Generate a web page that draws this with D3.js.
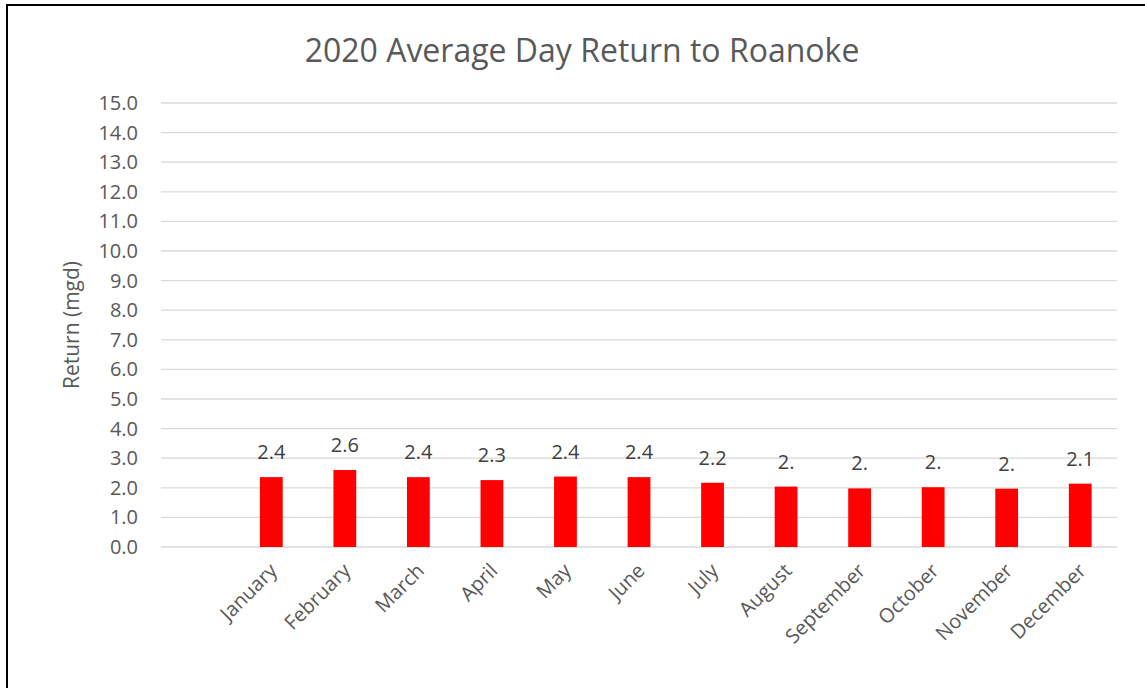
<!DOCTYPE html>
<html>
<head>
<meta charset="utf-8">
<script src="https://cdn.jsdelivr.net/npm/d3@7"></script>
<style>
  body { margin: 0; background: #fff; }
  svg { display: block; font-family: "Open Sans", "Noto Sans", sans-serif; }
</style>
</head>
<body>
<svg class="chart__svg" width="1145" height="688"></svg>
<script>
// chart data
// the first category is empty in the original workbook
const months = ['', 'January', 'February', 'March', 'April', 'May', 'June',
    'July', 'August', 'September', 'October', 'November', 'December'];
const returns = [null, 2.36, 2.60, 2.36, 2.26, 2.38, 2.36, 2.17, 2.04, 1.98, 2.02, 1.97, 2.14];
// labels as Excel shows them (some are cut off)
const valueLabels = ['', '2.4', '2.6', '2.4', '2.3', '2.4', '2.4', '2.2', '2.', '2.', '2.', '2.', '2.1'];
const yTicks = d3.range(0, 15.1, 1);

const svg = d3.select('.chart__svg');

const margin = { top: 103, right: 28, bottom: 141, left: 161 };
const width = 1145;
const height = 688;

// chart border
svg.append('rect')
    .attr('x', 7).attr('y', 5)
    .attr('width', 1145).attr('height', 690)
    .attr('fill', 'none')
    .attr('stroke', '#000')
    .attr('stroke-width', 2);

const x = d3.scaleBand()
    .domain(months)
    .range([margin.left, width - margin.right])
    .paddingInner(0.69)
    .paddingOuter(0.345);

const y = d3.scaleLinear()
    .domain([0, 15])
    .range([height - margin.bottom, margin.top]);

// gridlines
svg.append('g')
    .selectAll('line')
    .data(yTicks)
    .join('line')
    .attr('x1', margin.left)
    .attr('x2', width - margin.right)
    .attr('y1', d => y(d))
    .attr('y2', d => y(d))
    .attr('stroke', '#d9d9d9')
    .attr('stroke-width', 1.3);

// y tick labels
svg.append('g')
    .selectAll('text')
    .data(yTicks)
    .join('text')
    .attr('x', 138)
    .attr('y', d => y(d))
    .attr('dy', '0.35em')
    .attr('text-anchor', 'end')
    .attr('fill', '#595959')
    .attr('font-size', 20)
    .text(d => d3.format('.1f')(d));

// bars
const data = months.map((m, i) => ({ month: m, value: returns[i], label: valueLabels[i] }))
    .filter(d => d.value != null);

svg.append('g')
    .selectAll('rect')
    .data(data)
    .join('rect')
    .attr('x', d => x(d.month))
    .attr('width', x.bandwidth())
    .attr('y', d => y(d.value))
    .attr('height', d => y(0) - y(d.value))
    .attr('fill', '#ff0000');

// value labels
svg.append('g')
    .selectAll('text')
    .data(data)
    .join('text')
    .attr('x', d => x(d.month) + x.bandwidth() / 2)
    .attr('y', d => y(d.value) - 18)
    .attr('text-anchor', 'middle')
    .attr('fill', '#404040')
    .attr('font-size', 20)
    .text(d => d.label);

// x labels, rotated
svg.append('g')
    .selectAll('text')
    .data(data)
    .join('text')
    .attr('transform', d => `translate(${x(d.month) + x.bandwidth() / 2 + 7},${572}) rotate(-45)`)
    .attr('text-anchor', 'end')
    .attr('fill', '#595959')
    .attr('font-size', 20)
    .text(d => d.month);

// y axis title
svg.append('text')
    .attr('transform', `translate(79,${(margin.top + height - margin.bottom) / 2}) rotate(-90)`)
    .attr('text-anchor', 'middle')
    .attr('fill', '#595959')
    .attr('font-size', 21)
    .text('Return (mgd)');

// title
svg.append('text')
    .attr('x', 582)
    .attr('y', 62)
    .attr('text-anchor', 'middle')
    .attr('fill', '#595959')
    .attr('font-size', 32)
    .text('2020 Average Day Return to Roanoke');
</script>
</body>
</html>
